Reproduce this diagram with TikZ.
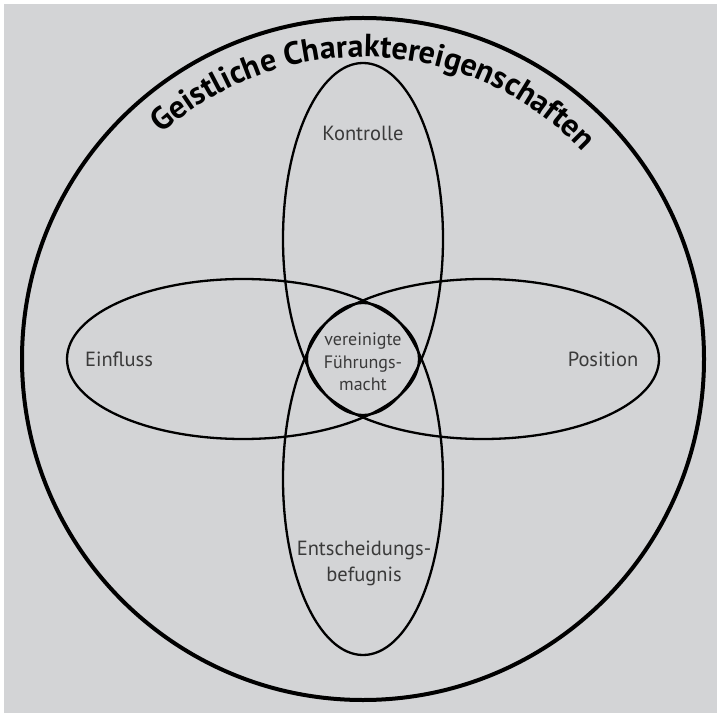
\documentclass[tikz,border=0pt]{standalone}
\usepackage{fontspec}
\setmainfont{PT Sans}
\usepackage{tikz}
\usetikzlibrary{decorations.text}
\definecolor{bggray}{RGB}{211,212,214}
\definecolor{labelgray}{RGB}{58,58,58}

\begin{document}
\begin{tikzpicture}[x = 1pt , y = 1pt ,
    ring/.style = {line width = 4pt},
    blob/.style = {line width = 2.3pt},
    lbl/.style = {text = labelgray , align = center , inner sep = 0pt , font = \fontsize{20.5}{26}\selectfont}]
    \useasboundingbox (0,0) rectangle (717,713);
    \fill[bggray] (4,0) rectangle (717,709); % Hintergrund
    \coordinate (mitte) at (363,354);
    \draw[ring] (mitte) circle (341pt);
    \draw[blob] (363,474) ellipse (80pt and 176pt); % oben
    \draw[blob] (363,234) ellipse (80pt and 176pt); % unten
    \draw[blob] (243,354) ellipse (176pt and 80pt); % links
    \draw[blob] (483,354) ellipse (176pt and 80pt); % rechts
    \path[decorate , decoration = {text along path , text align = center ,
        text = {|\bfseries\fontsize{32}{32}\selectfont|Geistliche Charaktereigenschaften}}]
        (mitte) ++(147.5:302pt) arc[start angle = 147.5 , end angle = 27.5 , radius = 302pt]; % Titel
    \node[lbl] (kontrolle) at (363,580) {Kontrolle};
    \node[lbl] (einfluss) at (119,354) {Einfluss};
    \node[lbl] (position) at (603,354) {Position};
    \node[lbl] (entscheidung) at (364,150) {Entscheidungs-\\befugnis};
    \node[lbl , font = \fontsize{18}{22.5}\selectfont] (macht) at (363,351) {vereinigte\\Führungs-\\macht};
\end{tikzpicture}
\end{document}
